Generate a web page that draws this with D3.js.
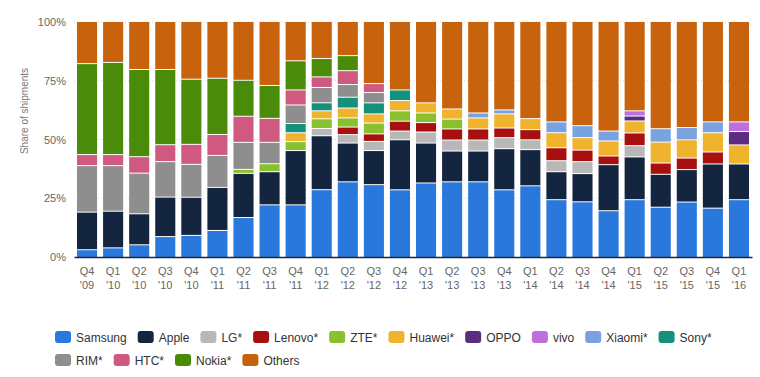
<!DOCTYPE html>
<html>
<head>
<meta charset="utf-8">
<script src="https://cdn.jsdelivr.net/npm/d3@7"></script>
<style>
  body { margin: 0; background: #fff; }
  text { font-family: "Liberation Sans", Arial, sans-serif; }
</style>
</head>
<body>
<svg id="drawing_region"></svg>
<script>
// quarters shown on the x axis
const quarters = ["Q4 '09","Q1 '10","Q2 '10","Q3 '10","Q4 '10","Q1 '11","Q2 '11","Q3 '11","Q4 '11",
  "Q1 '12","Q2 '12","Q3 '12","Q4 '12","Q1 '13","Q2 '13","Q3 '13","Q4 '13","Q1 '14","Q2 '14",
  "Q3 '14","Q4 '14","Q1 '15","Q2 '15","Q3 '15","Q4 '15","Q1 '16"];

// share of shipments (%)
const samsung = [3.3,4.1,5.4,8.9,9.4,11.5,17.0,22.4,22.4,28.8,32.2,31.0,28.8,31.7,32.2,32.2,28.8,30.5,24.6,23.7,19.9,24.6,21.4,23.6,21.0,24.6];
const apple   = [16.0,15.6,13.2,16.8,16.2,18.3,18.8,14.1,23.1,22.9,16.5,14.5,21.3,17.0,13.1,13.1,17.5,15.4,11.9,12.0,19.6,18.2,14.0,13.8,18.8,15.2];
const lg      = [0,0,0,0,0,0,0,0,0,3.1,3.6,3.9,3.7,4.7,4.7,4.7,4.7,4.2,4.7,5.1,0,4.8,0,0,0,0];
const lenovo  = [0,0,0,0,0,0,0,0,0,0,3.2,3.2,4.2,4.0,4.7,4.7,4.1,4.3,5.5,4.9,3.7,5.4,4.8,4.9,5.1,0];
const zte     = [0,0,0,0,0,0,1.7,3.4,3.8,4.1,3.9,4.6,4.4,4.1,4.2,0,0,0,0,0,0,0,0,0,0,0];
const huawei  = [0,0,0,0,0,0,0,0,3.8,3.4,4.2,3.9,4.4,4.3,4.3,4.7,6.0,4.7,6.4,5.3,6.4,5.1,8.9,7.8,8.2,8.1];
const oppo    = [0,0,0,0,0,0,0,0,0,0,0,0,0,0,0,0,0,0,0,0,0,2.1,0,0,0,5.7];
const vivo    = [0,0,0,0,0,0,0,0,0,0,0,0,0,0,0,0,0,0,0,0,0,2.2,0,0,0,4.1];
const xiaomi  = [0,0,0,0,0,0,0,0,0,0,0,0,0,0,0,2.1,1.7,0,4.6,5.1,4.2,0,5.7,5.2,4.6,0];
const sony    = [0,0,0,0,0,0,0,0,3.9,3.4,4.6,4.7,4.5,0,0,0,0,0,0,0,0,0,0,0,0,0];
const rim     = [19.8,19.4,17.3,15.1,14.0,13.6,11.5,9.1,7.9,6.5,5.4,4.4,0,0,0,0,0,0,0,0,0,0,0,0,0,0];
const htc     = [4.7,4.7,7.0,7.2,8.5,8.9,11.1,10.2,6.4,4.5,5.9,3.8,0,0,0,0,0,0,0,0,0,0,0,0,0,0];
const nokia   = [38.7,39.2,37.1,32.0,27.7,23.9,15.3,14.0,12.4,7.8,6.4,0,0,0,0,0,0,0,0,0,0,0,0,0,0,0];
const others  = [17.5,17.0,20.0,20.0,24.1,23.7,24.6,26.8,16.3,15.3,14.1,26.0,28.7,34.2,36.8,38.5,37.2,40.9,42.3,43.9,46.2,37.6,45.2,44.7,42.3,42.3];

const names = ["Samsung","Apple","LG*","Lenovo*","ZTE*","Huawei*","OPPO","vivo","Xiaomi*","Sony*","RIM*","HTC*","Nokia*","Others"];
const series = [samsung,apple,lg,lenovo,zte,huawei,oppo,vivo,xiaomi,sony,rim,htc,nokia,others];
const colors = ["#2b78dc","#13253f","#b8b8b8","#a81010","#88c030","#efb32d","#5a2d80","#be6fdc","#78a2e0","#13917a","#8e8e8e","#d05a7f","#4a8c0a","#c9620c"];

const yticks = [0,25,50,75,100];

const width = 760, height = 377;
const margin = {top:22, right:8, bottom:120, left:74};
const inner_width = width - margin.left - margin.right;
const inner_height = 257 - margin.top;

const svg = d3.select('#drawing_region')
    .attr('width', width)
    .attr('height', height);

const chart = svg.append('g')
    .attr('transform', `translate(${margin.left}, ${margin.top})`);

// rows for the stack
const table = quarters.map((q, i) => {
    const row = {quarter: q};
    names.forEach((n, k) => { row[n] = series[k][i]; });
    return row;
});

const stack = d3.stack().keys(names).offset(d3.stackOffsetExpand);
const stacked = stack(table);

const xscale = d3.scaleBand()
    .domain(quarters)
    .range([0, inner_width])
    .paddingInner(0.23)
    .paddingOuter(0.115);

const yscale = d3.scaleLinear()
    .domain([0, 1])
    .range([inner_height, 0]);

const color = d3.scaleOrdinal().domain(names).range(colors);

// grid lines
chart.append('g')
    .selectAll('line')
    .data(yticks.filter(d => d > 0))
    .join('line')
    .attr('x1', 0)
    .attr('x2', inner_width)
    .attr('y1', d => yscale(d / 100))
    .attr('y2', d => yscale(d / 100))
    .attr('stroke', '#d8d8d8')
    .attr('stroke-dasharray', '1,2');

// bars
chart.append('g')
    .selectAll('g')
    .data(stacked)
    .join('g')
    .attr('fill', d => color(d.key))
    .selectAll('rect')
    .data(d => d.filter(p => p[1] - p[0] > 0))
    .join('rect')
    .attr('x', d => xscale(d.data.quarter))
    .attr('width', xscale.bandwidth())
    .attr('y', d => yscale(d[1]) + (d[1] < 0.9999 ? 1 : 0))
    .attr('height', d => Math.max(0, yscale(d[0]) - yscale(d[1]) - (d[1] < 0.9999 ? 1 : 0)));

// y axis
const yaxis = d3.axisLeft(yscale)
    .tickValues(yticks.map(d => d / 100))
    .tickFormat(d => Math.round(d * 100) + '%')
    .tickSize(0)
    .tickPadding(8);

const yaxis_group = chart.append('g').call(yaxis);
yaxis_group.select('.domain').remove();
yaxis_group.selectAll('text')
    .style('font-size', '11px')
    .attr('fill', '#666');

// x axis
const xaxis_group = chart.append('g')
    .attr('transform', `translate(0, ${inner_height})`)
    .call(d3.axisBottom(xscale).tickSize(0).tickFormat(''));
xaxis_group.select('.domain')
    .attr('stroke', '#1a2838')
    .attr('stroke-width', 1.5);

xaxis_group.selectAll('.tick').each(function(d) {
    const parts = d.split(' ');
    const t = d3.select(this).append('text')
        .attr('fill', '#666')
        .attr('text-anchor', 'middle')
        .style('font-size', '11px')
        .attr('y', 18);
    t.append('tspan').attr('x', 0).text(parts[0]);
    t.append('tspan').attr('x', 0).attr('dy', '1.3em').text(parts[1]);
});

// y label
svg.append('text')
    .attr('transform', 'rotate(-90)')
    .attr('x', -111)
    .attr('y', 28)
    .attr('text-anchor', 'middle')
    .attr('fill', '#777')
    .style('font-size', '10px')
    .text('Share of shipments');

// legend
const legend = svg.append('g');
const rows = [names.slice(0, 10), names.slice(10)];
rows.forEach((row, r) => {
    let x = 55;
    const y = 337 + r * 23;
    row.forEach(n => {
        const item = legend.append('g').attr('transform', `translate(${x}, ${y})`);
        item.append('rect')
            .attr('x', 0)
            .attr('y', -6)
            .attr('width', 16)
            .attr('height', 12)
            .attr('rx', 3)
            .attr('fill', color(n));
        const t = item.append('text')
            .attr('x', 21)
            .attr('y', 4.5)
            .attr('fill', '#333')
            .style('font-size', '12px')
            .text(n);
        x += 21 + t.node().getComputedTextLength() + 11;
    });
});
</script>
</body>
</html>
